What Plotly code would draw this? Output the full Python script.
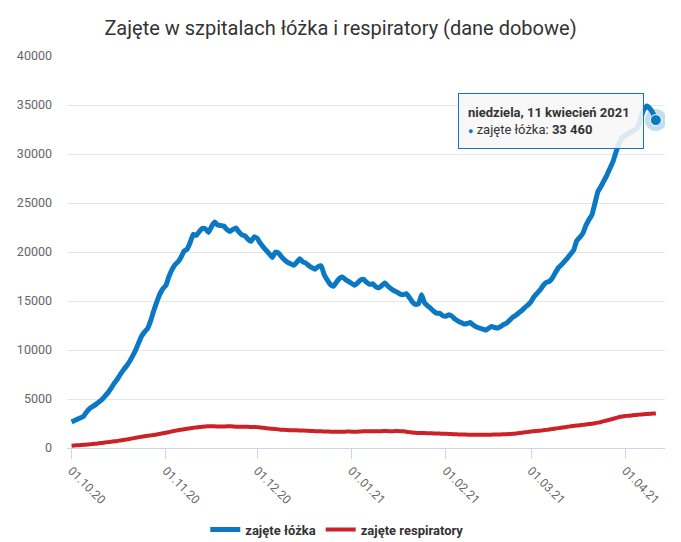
import pandas as pd
import plotly.graph_objects as go

start_date = "2020-10-01"

beds = [
    2670, 2800, 2950, 3080, 3250, 3700, 4050, 4250, 4450, 4700,
    4950, 5300, 5650, 6100, 6600, 7000, 7500, 7950, 8350, 8800,
    9350, 9950, 10700, 11400, 11850, 12200, 13000, 14000, 14900, 15700,
    16250, 16600, 17500, 18200, 18700, 19000, 19500, 20100, 20300, 21000,
    21800, 21700, 22100, 22400, 22350, 22000, 22600, 23050, 22750, 22700,
    22650, 22300, 22100, 22300, 22450, 22050, 21750, 21650, 21300, 21100,
    21550, 21400, 20900, 20500, 20150, 19800, 19450, 20000, 19900, 19500,
    19200, 18950, 18800, 18650, 18950, 19300, 19000, 18850, 18600, 18400,
    18250, 18500, 18600, 17700, 17150, 16700, 16500, 16900, 17300, 17450,
    17200, 17000, 16800, 16600, 16850, 17150, 17200, 16900, 16700, 16750,
    16450, 16350, 16600, 16850, 16500, 16250, 16050, 15900, 15700, 15650,
    15750, 15350, 14900, 14650, 14700, 15650, 14800, 14500, 14250, 13950,
    13750, 13750, 13500, 13450, 13600, 13450, 13150, 12950, 12800, 12650,
    12700, 12800, 12550, 12350, 12250, 12150, 12020, 12200, 12400, 12300,
    12250, 12400, 12600, 12750, 13050, 13350, 13550, 13800, 14050, 14350,
    14600, 14950, 15450, 15800, 16150, 16600, 16900, 17000, 17350, 17900,
    18400, 18700, 19050, 19400, 19800, 20200, 21150, 21500, 21900, 22700,
    23300, 23800, 25000, 26200, 26700, 27300, 27900, 28600, 29300, 30300,
    31100, 31700, 31900, 32100, 32300, 32450, 32700, 33600, 34500, 34900,
    34650, 34200, 33460,
]

respirators = [
    240, 260, 280, 300, 320, 350, 380, 410, 440, 480,
    520, 560, 600, 640, 680, 720, 770, 820, 870, 920,
    980, 1040, 1100, 1150, 1200, 1250, 1290, 1330, 1380, 1440,
    1500, 1550, 1620, 1700, 1760, 1820, 1870, 1920, 1970, 2010,
    2060, 2100, 2150, 2180, 2200, 2210, 2220, 2210, 2200, 2190,
    2200, 2210, 2220, 2200, 2180, 2170, 2160, 2170, 2160, 2150,
    2140, 2130, 2090, 2060, 2020, 1990, 1960, 1930, 1900, 1870,
    1850, 1830, 1820, 1810, 1800, 1790, 1780, 1770, 1750, 1740,
    1720, 1710, 1700, 1690, 1680, 1670, 1660, 1650, 1650, 1660,
    1670, 1680, 1670, 1660, 1670, 1690, 1700, 1710, 1720, 1710,
    1700, 1710, 1720, 1730, 1720, 1710, 1720, 1730, 1720, 1700,
    1660, 1620, 1580, 1550, 1540, 1530, 1520, 1510, 1500, 1490,
    1480, 1470, 1460, 1450, 1440, 1420, 1400, 1390, 1380, 1370,
    1360, 1355, 1350, 1350, 1350, 1345, 1340, 1350, 1360, 1370,
    1380, 1390, 1400, 1410, 1430, 1450, 1480, 1520, 1560, 1600,
    1640, 1680, 1710, 1740, 1770, 1810, 1850, 1890, 1930, 1980,
    2030, 2070, 2110, 2160, 2210, 2250, 2290, 2320, 2360, 2400,
    2440, 2480, 2530, 2590, 2660, 2740, 2820, 2900, 2980, 3070,
    3160, 3220, 3260, 3290, 3320, 3360, 3390, 3420, 3450, 3470,
    3490, 3510, 3530,
]

tick_dates = ["2020-10-01", "2020-11-01", "2020-12-01", "2021-01-01",
              "2021-02-01", "2021-03-01", "2021-04-01"]
tick_labels = ["01.10.20", "01.11.20", "01.12.20", "01.01.21",
               "01.02.21", "01.03.21", "01.04.21"]
y_ticks = [0, 5000, 10000, 15000, 20000, 25000, 30000, 35000, 40000]

series_names = ["zajęte łóżka", "zajęte respiratory"]
title_text = "Zajęte w szpitalach łóżka i respiratory (dane dobowe)"
tooltip_date = "niedziela, 11 kwiecień 2021"
tooltip_value = "33 460"

BLUE = "#0a78c2"
RED = "#cc2127"
FONT = "Roboto"

dates = pd.date_range(start_date, periods=len(beds), freq="D")

fig = go.Figure()
fig.add_trace(go.Scatter(x=dates, y=beds, mode="lines", name=series_names[0],
                         line=dict(color=BLUE, width=5, shape="spline", smoothing=0.4),
                         hoverinfo="skip"))
fig.add_trace(go.Scatter(x=dates, y=respirators, mode="lines", name=series_names[1],
                         line=dict(color=RED, width=4, shape="spline", smoothing=1.0),
                         hoverinfo="skip"))
# hovered point highlight
fig.add_trace(go.Scatter(x=[dates[-1]], y=[beds[-1]], mode="markers", showlegend=False,
                         marker=dict(size=22, color="rgba(10,120,194,0.25)"), hoverinfo="skip"))
fig.add_trace(go.Scatter(x=[dates[-1]], y=[beds[-1]], mode="markers", showlegend=False,
                         marker=dict(size=11, color=BLUE, line=dict(color="white", width=1)),
                         hoverinfo="skip"))

fig.add_annotation(
    xref="paper", yref="paper", x=0.654, y=0.9057, xanchor="left", yanchor="top",
    text=(f"<b>{tooltip_date}</b><br>"
          f"<span style='color:{BLUE};font-size:9px'>●</span> {series_names[0]}: <b>{tooltip_value}</b>"),
    showarrow=False, align="left", valign="middle",
    width=166, height=36,
    font=dict(family=FONT, size=13, color="#333333"),
    bgcolor="rgba(247,247,247,0.88)", bordercolor=BLUE, borderwidth=1, borderpad=9,
)

fig.update_layout(
    width=681, height=542,
    margin=dict(l=67, r=16, t=56, b=94, autoexpand=False),
    paper_bgcolor="white", plot_bgcolor="white",
    font=dict(family=FONT, color="#666666", size=12),
    title=dict(text=title_text, x=0.5, xref="container", xanchor="center",
               y=1 - 28 / 542, yref="container", yanchor="middle",
               font=dict(family=FONT, size=20, color="#333333")),
    showlegend=True,
    legend=dict(orientation="h", x=0.452, xanchor="center",
                y=-0.208, yanchor="middle",
                font=dict(family=FONT, size=13, color="#333333", weight="bold"),
                itemwidth=30, tracegroupgap=0),
    xaxis=dict(
        type="date",
        range=["2020-09-29 12:00", "2021-04-14 00:00"],
        tickmode="array", tickvals=tick_dates, ticktext=tick_labels,
        tickangle=45, ticks="outside", ticklen=10, tickcolor="#ccd6eb",
        showline=True, linecolor="#ccd6eb", linewidth=1,
        showgrid=False, zeroline=False, automargin=False,
        tickfont=dict(family=FONT, size=12, color="#666666"),
    ),
    yaxis=dict(
        range=[0, 40000], tickmode="array", tickvals=y_ticks,
        ticktext=[str(v) for v in y_ticks],
        showgrid=True, gridcolor="#e6e6e6", gridwidth=1,
        zeroline=False, showline=False, ticks="", automargin=False,
        ticklabelstandoff=14,
        tickfont=dict(family=FONT, size=12.5, color="#666666"),
    ),
)

fig.write_html("out.html")
